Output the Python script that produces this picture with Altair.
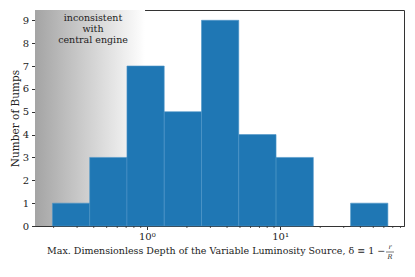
import altair as alt
import pandas as pd

# histogram bins (edges on log axis) and counts
bin_left = [0.196, 0.373, 0.710, 1.351, 2.573, 4.898, 9.324, 17.75, 33.79]
bin_right = [0.373, 0.710, 1.351, 2.573, 4.898, 9.324, 17.75, 33.79, 64.33]
counts = [1, 3, 7, 5, 9, 4, 3, 0, 1]

major_ticks = [1, 10]
minor_ticks = [0.2, 0.3, 0.4, 0.5, 0.6, 0.7, 0.8, 0.9,
               2, 3, 4, 5, 6, 7, 8, 9,
               20, 30, 40, 50, 60, 70, 80]

x_domain = [0.145, 85]
y_domain = [0, 9.45]
shade_range = [0.145, 0.97]

FONT = "DejaVu Serif"
W, H = 369, 216

bars = pd.DataFrame({"lo": bin_left, "hi": bin_right, "n": counts})
bars = bars[bars["n"] > 0]

xscale = alt.Scale(type="log", domain=x_domain, nice=False)
yscale = alt.Scale(domain=y_domain, nice=False, zero=True)

shade = alt.Chart(pd.DataFrame({"a": [shade_range[0]], "b": [shade_range[1]]})).mark_rect(
    color=alt.Gradient(
        gradient="linear",
        stops=[alt.GradientStop(color="#a4a4a4", offset=0),
               alt.GradientStop(color="#ffffff", offset=1)],
        x1=0, x2=1, y1=0, y2=0),
).encode(
    x=alt.X("a:Q", scale=xscale,
            axis=alt.Axis(values=major_ticks, labelExpr="datum.value == 1 ? '10⁰' : '10¹'",
                          title=None, grid=False, tickSize=3.5, labelFont=FONT, labelFontSize=10,
                          labelColor="#222", tickColor="#333", domainColor="#333",
                          labelPadding=2)),
    x2="b:Q",
    y=alt.value(0), y2=alt.value(H),
)

hist = alt.Chart(bars).mark_rect(color="#1f77b4", stroke="#4d95c8", strokeWidth=0.6).encode(
    x=alt.X("lo:Q", scale=xscale),
    x2="hi:Q",
    y=alt.Y("n:Q", scale=yscale,
            axis=alt.Axis(values=list(range(10)), title="Number of Bumps", grid=False,
                          tickSize=3.5, labelFont=FONT, labelFontSize=10, labelColor="#222",
                          titleFont=FONT, titleFontSize=10.5, titleFontWeight="normal",
                          titleColor="#222", tickColor="#333", domainColor="#333",
                          titlePadding=2, labelPadding=3)),
    y2=alt.datum(0),
)

minor = alt.Chart(pd.DataFrame({"t": minor_ticks})).mark_rule(color="#333", strokeWidth=0.8).encode(
    x=alt.X("t:Q", scale=xscale),
    y=alt.value(H), y2=alt.value(H + 2),
)

note = alt.Chart(pd.DataFrame({"t": ["inconsistent", "with", "central engine"],
                               "yy": [8, 19, 30]})).mark_text(
    font=FONT, fontSize=9.5, color="#222", align="center", baseline="middle"
).encode(x=alt.value(58), y=alt.Y("yy:Q", scale=None), text="t:N")

xlabel = alt.Chart(pd.DataFrame({"t": ["Max. Dimensionless Depth of the Variable Luminosity Source, δ ≡ 1 −"]})).mark_text(
    font=FONT, fontSize=9.5, color="#222", align="left", baseline="middle"
).encode(x=alt.value(12), y=alt.value(241), text="t:N")

frac = alt.Chart(pd.DataFrame({"t": ["r", "R"], "yy": [237, 247]})).mark_text(
    font=FONT, fontSize=6.5, fontStyle="italic", color="#222", align="center", baseline="middle"
).encode(x=alt.value(355), y=alt.Y("yy:Q", scale=None), text="t:N")

fracbar = alt.Chart(pd.DataFrame({"a": [0]})).mark_rule(color="#222", strokeWidth=0.6).encode(
    x=alt.value(351), x2=alt.value(359), y=alt.value(242)
)

chart = alt.layer(shade, hist, minor, note, xlabel, frac, fracbar).properties(
    width=W, height=H,
    autosize=alt.AutoSizeParams(type="none"),
    padding={"left": 27, "top": 2, "right": 3, "bottom": 40},
).configure_view(stroke="#333", strokeWidth=1)

chart.save("out.html", embed_options={"renderer": "svg", "actions": False})
